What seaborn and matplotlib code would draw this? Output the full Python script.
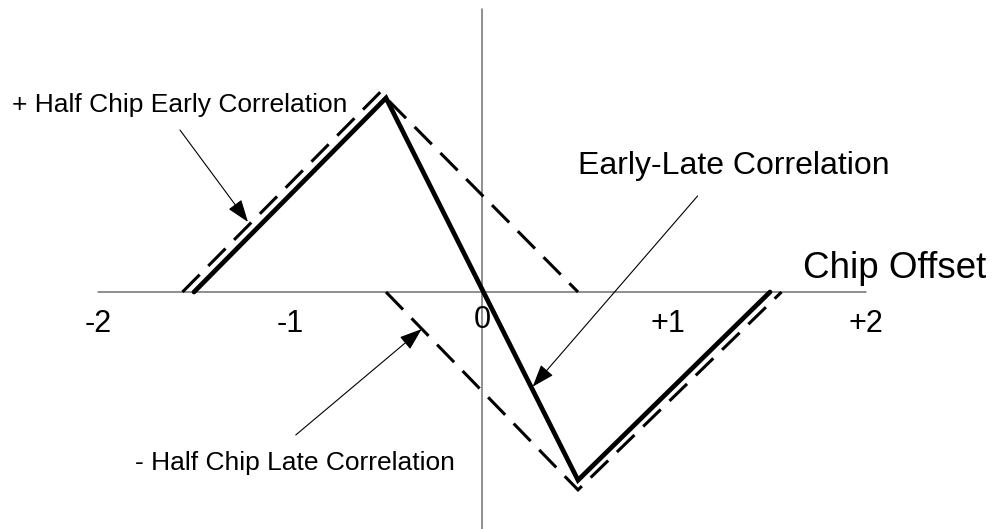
import matplotlib
matplotlib.use("Agg")
import matplotlib.pyplot as plt
from matplotlib.patches import ArrowStyle
import seaborn as sns

# Early-late correlation (discriminator) curve
el_x = [-1.5, -0.5, 0.5, 1.5]
el_y = [0.0, 1.0, -0.97, 0.0]

# Half-chip early correlation triangle
early_x = [-1.56, -0.53, 0.5]
early_y = [0.0, 1.03, 0.0]

# Half-chip late correlation triangle (negated)
late_x = [-0.5, 0.5, 1.56]
late_y = [0.0, -1.02, 0.0]

# Tick labels of the chip-offset axis
tick_pos = [-2, -1, 0, 1, 2]
tick_text = ["-2", "-1", "0", "+1", "+2"]

sns.set_style("white")
plt.rcParams["font.family"] = ["Liberation Sans", "DejaVu Sans"]
plt.rcParams["text.color"] = "black"

fig = plt.figure(figsize=(9.99, 5.29), dpi=100)
ax = fig.add_axes([0, 0, 1, 1])
ax.set_xlim(-2.5104, 2.6927)
ax.set_ylim(-1.2216, 1.5052)
ax.axis("off")

# Coordinate axes
axis_col = "#707070"
ax.plot([-2.0, 2.0], [0, 0], color=axis_col, lw=1.1, zorder=1)
ax.plot([0, 0], [-1.23, 1.46], color=axis_col, lw=1.1, zorder=1)

dash = (0, (8.0, 4.0))
sns.lineplot(x=early_x, y=early_y, sort=False, estimator=None, ax=ax,
             color="black", lw=2.2, linestyle=dash, zorder=2)
sns.lineplot(x=late_x, y=late_y, sort=False, estimator=None, ax=ax,
             color="black", lw=2.2, linestyle=dash, zorder=2)
sns.lineplot(x=el_x, y=el_y, sort=False, estimator=None, ax=ax,
             color="black", lw=3.4, zorder=3)
for line in ax.lines:
    line.set_solid_joinstyle("miter")
    line.set_dash_joinstyle("miter")

# Tick labels
for p, t in zip(tick_pos, tick_text):
    yb = -0.186 if p == 0 else -0.206
    xo = -0.03 if t.startswith("+1") else 0.0
    ax.text(p + xo, yb, t, ha="center", va="baseline", fontsize=22,
            color="black")

ax.text(1.672, 0.072, "Chip Offset", ha="left", va="baseline", fontsize=26.5,
        color="black")

# Callouts
head = ArrowStyle("-|>", head_length=0.7, head_width=0.25)
aprops = dict(arrowstyle=head, mutation_scale=20, color="black", lw=0.8,
              shrinkA=0, shrinkB=0)

ax.text(-2.448, 0.928, "+ Half Chip Early Correlation", ha="left",
        va="baseline", fontsize=19, color="black")
ax.annotate("", xy=(-1.219, 0.361), xytext=(-1.573, 0.835), arrowprops=aprops)

ax.text(0.5, 0.608, "Early-Late Correlation", ha="left", va="baseline",
        fontsize=23, color="black")
ax.annotate("", xy=(0.264, -0.488), xytext=(1.123, 0.495), arrowprops=aprops)

ax.text(-1.807, -0.918, "- Half Chip Late Correlation", ha="left",
        va="baseline", fontsize=19, color="black")
ax.annotate("", xy=(-0.314, -0.191), xytext=(-0.970, -0.737), arrowprops=aprops)

fig.savefig("out.png", dpi=100)
